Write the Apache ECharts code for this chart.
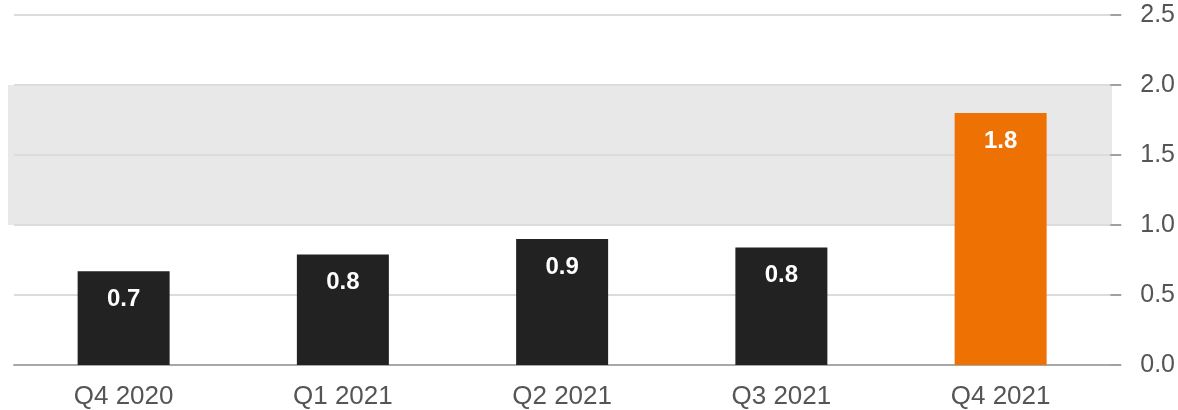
<!DOCTYPE html>
<html>
<head>
<meta charset="utf-8">
<script src="https://cdn.jsdelivr.net/npm/echarts@6/dist/echarts.min.js"></script>
<style>
html,body{margin:0;padding:0;background:#fff;}
#chart{width:1178px;height:410px;}
</style>
</head>
<body>
<div id="chart"></div>
<script>
const categories = ['Q4 2020', 'Q1 2021', 'Q2 2021', 'Q3 2021', 'Q4 2021'];
const values = [0.67, 0.79, 0.90, 0.84, 1.80];
const barColors = ['#222222', '#222222', '#222222', '#222222', '#ee7203'];
const bandRange = [1.0, 2.0];
const yTicks = { min: 0, max: 2.5, interval: 0.5 };

const chart = echarts.init(document.getElementById('chart'), null, { renderer: 'canvas' });
const fontFamily = 'Liberation Sans, Arial, Helvetica, sans-serif';

const option = {
  backgroundColor: '#ffffff',
  animation: false,
  grid: { left: 14, right: 66, top: 15, bottom: 45, containLabel: false },
  xAxis: {
    type: 'category',
    data: categories,
    axisLine: { show: true, lineStyle: { color: '#a8a8a8', width: 2 } },
    axisTick: { show: false },
    axisLabel: { color: '#555555', fontSize: 26, fontFamily: fontFamily, margin: 19 },
    splitLine: { show: false }
  },
  yAxis: {
    type: 'value',
    position: 'right',
    min: yTicks.min,
    max: yTicks.max,
    interval: yTicks.interval,
    axisLine: { show: false },
    axisTick: { show: true, length: 11, lineStyle: { color: '#a0a0a0', width: 2 } },
    axisLabel: {
      color: '#555555', fontSize: 25, fontFamily: fontFamily, margin: 30,
      padding: [3, 0, 0, 0],
      formatter: v => v.toFixed(1)
    },
    splitLine: { show: true, lineStyle: { color: '#dcdcdc', width: 2 } }
  },
  series: [{
    type: 'bar',
    data: values.map((v, i) => ({ value: v, itemStyle: { color: barColors[i] } })),
    barWidth: 92,
    label: {
      show: true,
      position: 'insideTop',
      distance: 16,
      color: '#ffffff',
      fontWeight: 'bold',
      fontSize: 24,
      fontFamily: fontFamily,
      formatter: p => p.value.toFixed(1)
    }
  }]
};
chart.setOption(option);

const yTop = chart.convertToPixel({ yAxisIndex: 0 }, bandRange[1]);
const yBot = chart.convertToPixel({ yAxisIndex: 0 }, bandRange[0]);
const xRight = chart.getWidth() - 66;
chart.setOption({
  graphic: [{
    type: 'rect',
    z: -10,
    silent: true,
    shape: { x: 8, y: yTop, width: xRight - 8, height: yBot - yTop },
    style: { fill: '#e8e8e8' }
  }]
});
</script>
</body>
</html>
